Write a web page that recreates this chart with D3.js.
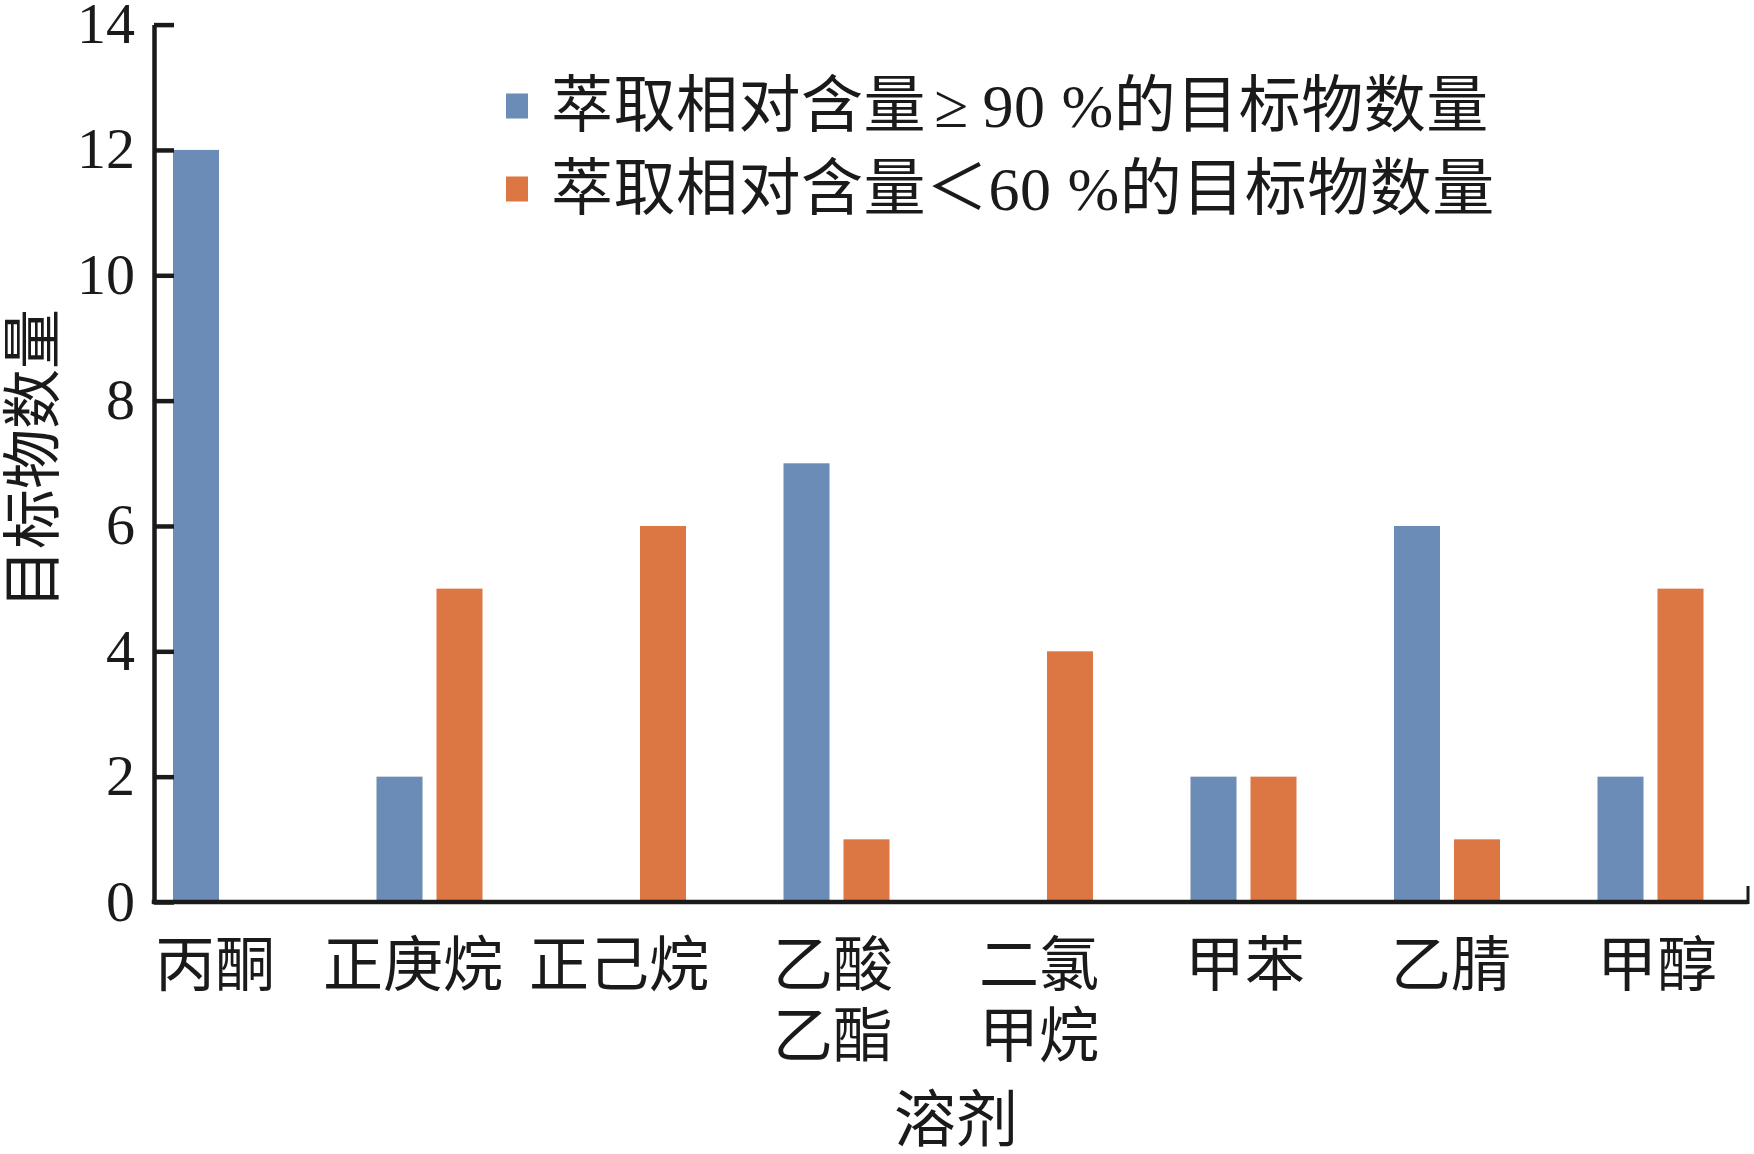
<!DOCTYPE html>
<html><head><meta charset="utf-8">
<script src="https://cdn.jsdelivr.net/npm/d3@7"></script>
<style>
html,body{margin:0;padding:0;background:#fff;}
svg{display:block;}
text{font-family:"Liberation Serif","Noto Sans CJK SC",serif;fill:#1a1a1a;}
</style></head>
<body>
<script>
const categories = ["丙酮", "正庚烷", "正己烷", "乙酸乙酯", "二氯甲烷", "甲苯", "乙腈", "甲醇"];
const categoryLines = [["丙酮"], ["正庚烷"], ["正己烷"], ["乙酸", "乙酯"], ["二氯", "甲烷"], ["甲苯"], ["乙腈"], ["甲醇"]];
const seriesNames = ["萃取相对含量≥90 %的目标物数量", "萃取相对含量＜60 %的目标物数量"];
const seriesHigh = [12, 2, 0, 7, 0, 2, 6, 2];
const seriesLow = [0, 5, 6, 1, 4, 2, 1, 5];
const yTicks = [0, 2, 4, 6, 8, 10, 12, 14];
const colors = ["#6b8cb6", "#dc7744"];
const yTitle = "目标物数量";
const xTitle = "溶剂";

const W = 1754, H = 1154;
const axisX = 154, axisY = 902, axisTop = 24.6, axisRight = 1748;

const svg = d3.select("body").append("svg").attr("width", W).attr("height", H);

const y = d3.scaleLinear().domain([0, 14]).range([axisY, axisTop]);
const x0 = d3.scaleBand().domain(categories).range([124.25, 1752.25]).paddingInner(0).paddingOuter(0);
const x1 = d3.scaleBand().domain([0, 1]).range([-53, 53]).paddingInner(0.233).paddingOuter(0);
const xl = d3.scaleBand().domain(categories).range([112, 1760]);

const data = categories.map((c, i) => ({cat: c, vals: [seriesHigh[i], seriesLow[i]]}));

// bars
const g = svg.append("g");
data.forEach(d => {
  const cx = x0(d.cat) + x0.bandwidth() / 2;
  d.vals.forEach((v, k) => {
    if (v <= 0) return;
    g.append("rect")
      .attr("x", cx + x1(k))
      .attr("y", y(v))
      .attr("width", x1.bandwidth())
      .attr("height", y(0) - y(v))
      .attr("fill", colors[k]);
  });
});

// y axis
const yAxis = d3.axisLeft(y).tickValues(yTicks).tickSizeInner(-20).tickSizeOuter(0).tickPadding(19);
const ga = svg.append("g").attr("transform", `translate(${axisX},0)`).call(yAxis);
ga.select(".domain").attr("stroke", "#1a1a1a").attr("stroke-width", 4.5);
ga.selectAll(".tick line").attr("stroke", "#1a1a1a").attr("stroke-width", 4.5);
ga.selectAll(".tick text")
  .attr("font-size", 58).attr("dy", null).attr("dominant-baseline", null)
  .attr("y", 18).attr("fill", "#1a1a1a")
  .style("font-family", '"Liberation Serif", serif');

// x axis line
svg.append("line").attr("x1", axisX - 2.25).attr("x2", axisRight).attr("y1", axisY).attr("y2", axisY)
  .attr("stroke", "#1a1a1a").attr("stroke-width", 4.5);
svg.append("line").attr("x1", axisRight).attr("x2", axisRight).attr("y1", axisY + 2).attr("y2", axisY - 16)
  .attr("stroke", "#1a1a1a").attr("stroke-width", 3);

// category labels
categories.forEach((c, i) => {
  const cx = xl(c) + xl.bandwidth() / 2 - (categoryLines[i][0].length === 3 ? 8 : 0);
  categoryLines[i].forEach((line, j) => {
    svg.append("text").attr("x", cx).attr("y", 966 + j * 71)
      .attr("text-anchor", "middle").attr("dominant-baseline", "central")
      .attr("font-size", 60).text(line);
  });
});

// axis titles
svg.append("text").attr("transform", "translate(34,459) rotate(-90)")
  .attr("text-anchor", "middle").attr("dominant-baseline", "central")
  .attr("font-size", 60).text(yTitle);
svg.append("text").attr("x", 956).attr("y", 1121)
  .attr("text-anchor", "middle").attr("dominant-baseline", "central")
  .attr("font-size", 62).text(xTitle);

// legend
const legendY = [106, 189];
seriesNames.forEach((name, k) => {
  svg.append("rect").attr("x", 506).attr("y", legendY[k] - 12.5).attr("width", 22).attr("height", 25).attr("fill", colors[k]);
  const t = svg.append("text").attr("x", 551).attr("y", legendY[k])
    .attr("dominant-baseline", "central").attr("font-size", 62).attr("letter-spacing", 0.5);
  const m = name.match(/^(.*?)([≥＜])(.*)$/);
  if (m && m[2] === "≥") {
    t.append("tspan").text(m[1]);
    t.append("tspan").attr("dx", 8).text(m[2]);
    t.append("tspan").attr("dx", 14).text(m[3]);
  } else {
    t.text(name);
  }
});
</script>
</body></html>
